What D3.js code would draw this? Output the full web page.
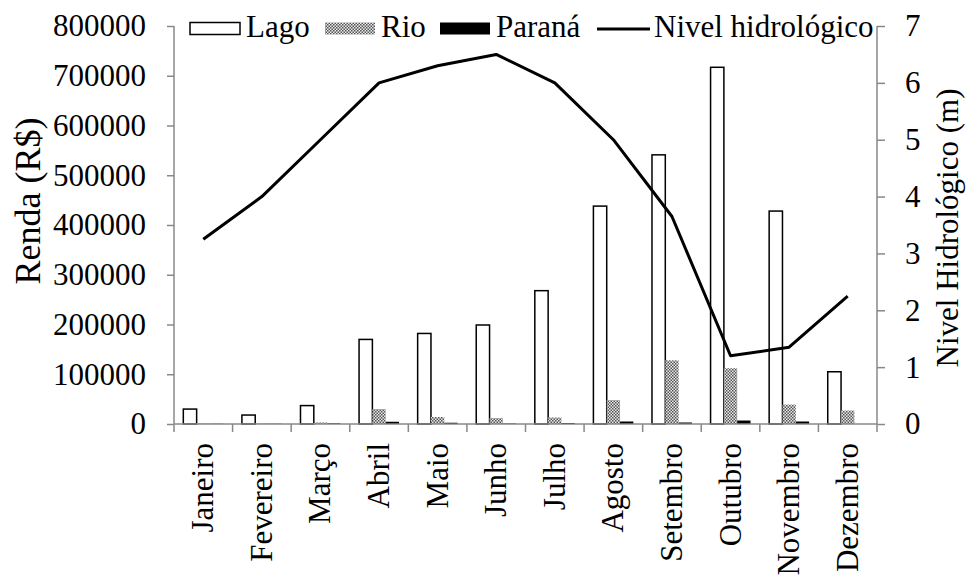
<!DOCTYPE html>
<html><head><meta charset="utf-8">
<script src="https://cdn.jsdelivr.net/npm/d3@7"></script>
<style>
body{margin:0;background:#fff}svg{display:block}
svg text{font-family:"Liberation Serif","Times New Roman",serif;font-size:31px;fill:#000}
</style>
</head><body>
<script>
const months = ["Janeiro","Fevereiro","Março","Abril","Maio","Junho","Julho","Agosto","Setembro","Outubro","Novembro","Dezembro"];
const lago = [30000,18000,37000,170000,182000,199000,268000,438000,541000,717000,428000,105000];
const rio = [1000,1000,3000,30000,14000,12000,13000,48000,128000,112000,39000,27000];
const parana = [500,500,1500,4500,2500,1000,2000,5000,3000,7000,5000,0];
const nivel = [3.25,4.0,5.0,6.0,6.3,6.5,6.0,5.0,3.65,1.2,1.35,2.25];
const leftTicks = [0,100000,200000,300000,400000,500000,600000,700000,800000];
const rightTicks = [0,1,2,3,4,5,6,7];
const seriesNames = ["Lago","Rio","Paraná","Nivel hidrológico"];

const W=967,H=575;
const L=174,R=877,T=26,B=424;
const axisColor="#888";

const svg=d3.select("body").append("svg").attr("width",W).attr("height",H);

const defs=svg.append("defs");
const pat=defs.append("pattern").attr("id","chk").attr("patternUnits","userSpaceOnUse")
  .attr("width",3).attr("height",3);
pat.append("rect").attr("width",3).attr("height",3).attr("fill","#e8e8e8");
pat.append("rect").attr("width",1.5).attr("height",1.5).attr("fill","#555");
pat.append("rect").attr("x",1.5).attr("y",1.5).attr("width",1.5).attr("height",1.5).attr("fill","#555");

const x=d3.scaleBand().domain(months).range([L,R]).paddingInner(0).paddingOuter(0);
const xs=d3.scaleBand().domain([0,1,2]).range([0,x.bandwidth()]).paddingOuter(0.7).paddingInner(0);
const y=d3.scaleLinear().domain([0,800000]).range([B,T]);
const y2=d3.scaleLinear().domain([0,7]).range([B,T]);

// bars
const data=[lago,rio,parana];
const fills=["#fff","url(#chk)","#000"];
months.forEach((m,i)=>{
  data.forEach((s,j)=>{
    const v=s[i];
    svg.append("rect")
      .attr("x",x(m)+xs(j)).attr("width",xs.bandwidth())
      .attr("y",y(v)).attr("height",Math.max(0,B-y(v)))
      .attr("fill",fills[j])
      .attr("stroke",j===0?"#000":"none").attr("stroke-width",j===0?1.5:0);
  });
});

// axes
const gl=svg.append("g").attr("transform",`translate(${L},0)`)
  .call(d3.axisLeft(y).tickValues(leftTicks).tickFormat(d3.format("d")).tickSize(7).tickPadding(21));
const gr=svg.append("g").attr("transform",`translate(${R},0)`)
  .call(d3.axisRight(y2).tickValues(rightTicks).tickFormat(d3.format("d")).tickSize(8).tickPadding(20));
const gb=svg.append("g").attr("transform",`translate(0,${B})`)
  .call(d3.axisBottom(x).tickSize(0).tickFormat(""));
gb.selectAll(".bt").data(d3.range(13)).enter().append("line")
  .attr("x1",i=>L+i*x.bandwidth()).attr("x2",i=>L+i*x.bandwidth())
  .attr("y1",0).attr("y2",8).attr("stroke",axisColor).attr("stroke-width",1.5);
[gl,gr,gb].forEach(g=>{
  g.attr("font-family",null).attr("font-size",null);
  g.select(".domain").attr("stroke",axisColor).attr("stroke-width",1.5);
  g.selectAll(".tick line").attr("stroke",axisColor).attr("stroke-width",1.5);
});
gl.select(".domain").attr("d",`M0,${T}V${B}`);
gr.select(".domain").attr("d",`M0,${T}V${B}`);
gb.select(".domain").attr("d",`M${L},0H${R}`);

// x labels
svg.selectAll(".xl").data(months).enter().append("text")
  .attr("transform",d=>`translate(${x(d)+x.bandwidth()/2+10},${B+19}) rotate(-90)`)
  .attr("text-anchor","end").text(d=>d);

// line
const line=d3.line().x((d,i)=>x(months[i])+x.bandwidth()/2).y(d=>y2(d));
svg.append("path").datum(nivel).attr("d",line).attr("fill","none")
  .attr("stroke","#000").attr("stroke-width",3).attr("stroke-linejoin","round");

// axis titles
svg.append("text").attr("transform","translate(40,201) rotate(-90)")
  .attr("text-anchor","middle").style("font-size","36px").text("Renda (R$)");
svg.append("text").attr("transform","translate(958,228) rotate(-90)")
  .attr("text-anchor","middle").text("Nivel Hidrológico (m)");

// legend
const lg=svg.append("g");
const items=[
  {n:seriesNames[0],x:190,t:"lago"},
  {n:seriesNames[1],x:325,t:"rio"},
  {n:seriesNames[2],x:440,t:"par"},
  {n:seriesNames[3],x:597,t:"line"}];
items.forEach(it=>{
  if(it.t==="line"){
    lg.append("line").attr("x1",it.x).attr("x2",it.x+53).attr("y1",29).attr("y2",29)
      .attr("stroke","#000").attr("stroke-width",3);
  } else {
    lg.append("rect").attr("x",it.x).attr("y",22.5).attr("width",50).attr("height",12)
      .attr("fill",it.t==="lago"?"#fff":it.t==="rio"?"url(#chk)":"#000")
      .attr("stroke",it.t==="lago"?"#000":"none").attr("stroke-width",1.5);
  }
  lg.append("text").attr("x",it.x+(it.t==="line"?57:56)).attr("y",37).text(it.n);
});
</script>
</body></html>
